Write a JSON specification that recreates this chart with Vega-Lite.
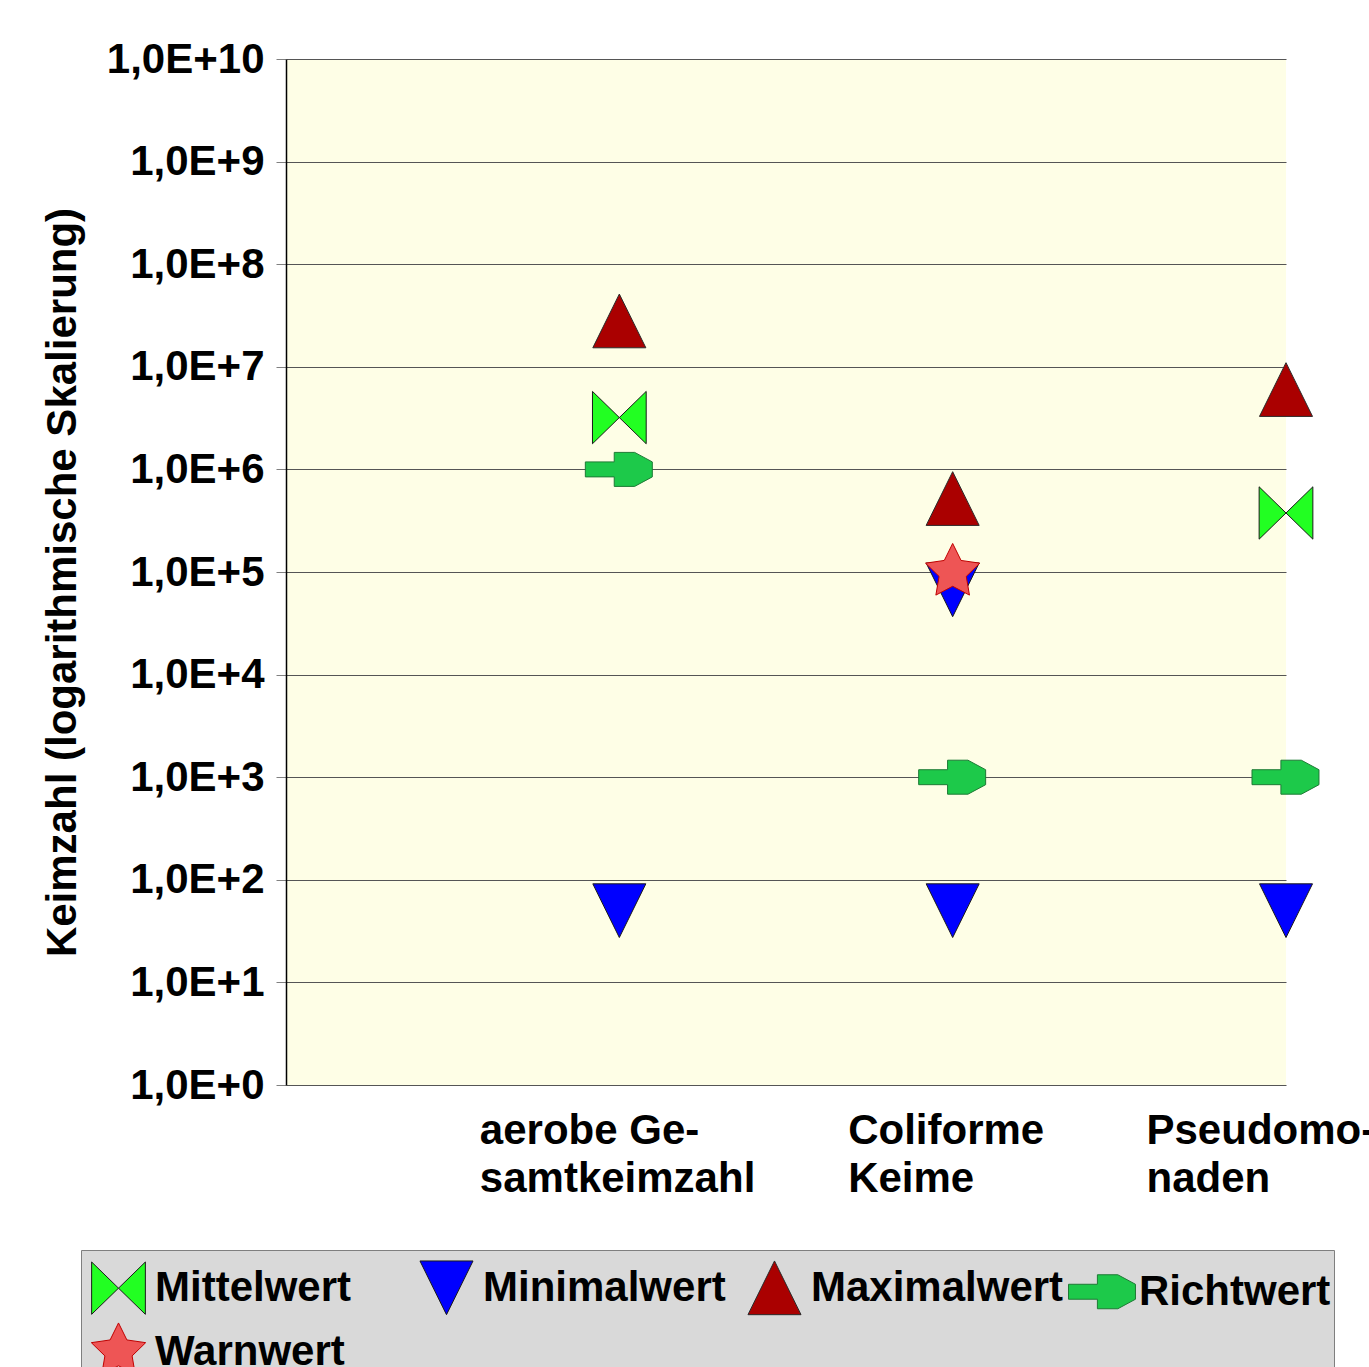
{
  "$schema": "https://vega.github.io/schema/vega-lite/v6.json",
  "width": 1000,
  "height": 1026,
  "autosize": {"type": "none"},
  "padding": {"left": 286, "top": 59, "right": 83, "bottom": 282},
  "background": "#FFFFFF",
  "view": {"fill": "#FEFEE6", "stroke": null},
  "config": {
    "font": "Liberation Sans",
    "legend": {
      "orient": "none",
      "legendX": -205,
      "legendY": 1191,
      "direction": "horizontal",
      "columns": 4,
      "gridAlign": "all",
      "columnPadding": 2,
      "rowPadding": 0,
      "padding": 3,
      "fillColor": "#D9D9D9",
      "strokeColor": "#7F7F7F",
      "labelFont": "Liberation Sans",
      "labelFontSize": 42,
      "labelFontWeight": "bold",
      "labelColor": "#000000",
      "labelOffset": 2,
      "labelLimit": 0,
      "symbolSize": 4624,
      "symbolStrokeWidth": 1,
      "title": null
    }
  },
  "data": {
    "values": [
      {"cat": "aerobe Gesamtkeimzahl", "series": "Mittelwert", "value": 3200000},
      {"cat": "Pseudomonaden", "series": "Mittelwert", "value": 376000},
      {"cat": "aerobe Gesamtkeimzahl", "series": "Minimalwert", "value": 50},
      {"cat": "Coliforme Keime", "series": "Minimalwert", "value": 50},
      {"cat": "Coliforme Keime", "series": "Minimalwert", "value": 67000},
      {"cat": "Pseudomonaden", "series": "Minimalwert", "value": 50},
      {"cat": "aerobe Gesamtkeimzahl", "series": "Maximalwert", "value": 28000000},
      {"cat": "Coliforme Keime", "series": "Maximalwert", "value": 520000},
      {"cat": "Pseudomonaden", "series": "Maximalwert", "value": 6000000},
      {"cat": "aerobe Gesamtkeimzahl", "series": "Richtwert", "value": 1000000},
      {"cat": "Coliforme Keime", "series": "Richtwert", "value": 1000},
      {"cat": "Pseudomonaden", "series": "Richtwert", "value": 1000},
      {"cat": "Coliforme Keime", "series": "Warnwert", "value": 100000}
    ]
  },
  "mark": {"type": "point", "filled": true, "size": 4624, "opacity": 1, "strokeWidth": 1},
  "encoding": {
    "x": {
      "field": "cat",
      "type": "nominal",
      "sort": null,
      "scale": {"type": "point", "domain": ["_", "aerobe Gesamtkeimzahl", "Coliforme Keime", "Pseudomonaden"], "padding": 0},
      "axis": {
        "title": null,
        "domain": false,
        "ticks": false,
        "grid": false,
        "labelAngle": 0,
        "labelAlign": "left",
        "labelBaseline": "top",
        "labelPadding": 25,
        "labelOffset": {"condition": {"test": "datum.value == 'Coliforme Keime'", "value": -105}, "value": -140},
        "labelFont": "Liberation Sans",
        "labelFontSize": 42,
        "labelFontWeight": "bold",
        "labelColor": "#000000",
        "labelLineHeight": 48,
        "labelLimit": 0,
        "labelOverlap": false,
        "labelBound": false,
        "labelExpr": "datum.value == 'aerobe Gesamtkeimzahl' ? ['aerobe Ge-', 'samtkeimzahl'] : datum.value == 'Coliforme Keime' ? ['Coliforme', 'Keime'] : datum.value == 'Pseudomonaden' ? ['Pseudomo-', 'naden'] : ''"
      }
    },
    "y": {
      "field": "value",
      "type": "quantitative",
      "scale": {"type": "log", "domain": [1, 10000000000], "nice": false},
      "axis": {
        "title": "Keimzahl (logarithmische Skalierung)",
        "titleFont": "Liberation Sans",
        "titleFontSize": 42,
        "titleFontWeight": "bold",
        "titleColor": "#000000",
        "titlePadding": 22,
        "titleY": 523,
        "values": [1, 10, 100, 1000, 10000, 100000, 1000000, 10000000, 100000000, 1000000000, 10000000000],
        "labelExpr": "'1,0E+' + round(log(datum.value) / LN10)",
        "labelFont": "Liberation Sans",
        "labelFontSize": 42,
        "labelFontWeight": "bold",
        "labelColor": "#000000",
        "labelPadding": 12,
        "labelLimit": 0,
        "labelOverlap": false,
        "labelBound": false,
        "labelFlush": false,
        "tickSize": 10,
        "tickColor": "#808080",
        "domainColor": "#000000",
        "domainWidth": 1.5,
        "grid": true,
        "gridColor": "#555555",
        "gridWidth": 1.2
      }
    },
    "shape": {
      "field": "series",
      "type": "nominal",
      "scale": {
        "domain": ["Mittelwert", "Minimalwert", "Maximalwert", "Richtwert", "Warnwert"],
        "range": [
          "M-0.79,-0.77L0,0L-0.79,0.77ZM0.79,-0.77L0,0L0.79,0.77Z",
          "M-0.78,-0.79L0.78,-0.79L0,0.79Z",
          "M0,-0.79L0.78,0.79L-0.78,0.79Z",
          "M-1,-0.22L-0.15,-0.22L-0.15,-0.5L0.45,-0.5L0.97,-0.22L0.97,0.22L0.45,0.5L-0.15,0.5L-0.15,0.22L-1,0.22Z",
          "M0,-0.84L0.247,-0.34L0.799,-0.26L0.4,0.13L0.494,0.68L0,0.42L-0.494,0.68L-0.4,0.13L-0.799,-0.26L-0.247,-0.34Z"
        ]
      }
    },
    "fill": {
      "field": "series",
      "type": "nominal",
      "scale": {
        "domain": ["Mittelwert", "Minimalwert", "Maximalwert", "Richtwert", "Warnwert"],
        "range": ["#22FF22", "#0000FF", "#AA0000", "#1DC94A", "#EE5555"]
      }
    },
    "stroke": {
      "field": "series",
      "type": "nominal",
      "scale": {
        "domain": ["Mittelwert", "Minimalwert", "Maximalwert", "Richtwert", "Warnwert"],
        "range": ["#1A1A1A", "#1A1A1A", "#2A2A2A", "#1E7A35", "#C00000"]
      }
    }
  }
}
